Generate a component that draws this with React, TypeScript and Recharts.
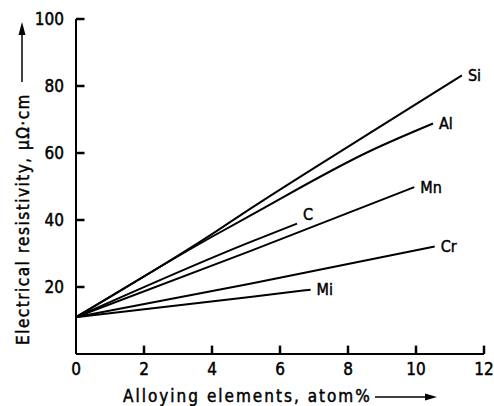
import { LineChart, Line, XAxis, YAxis, LabelList, ReferenceLine } from "recharts";

// resistivity vs. alloying content
const silicon = [[0, 11], [4, 35.8], [5.12, 43.3], [8.65, 66], [11.35, 83.2]];
const aluminium = [[0, 11], [4, 35], [5.12, 41.3], [8.65, 60.6], [10.5, 68.8]];
const carbon = [[0, 11], [5.12, 33.4], [6.5, 38.9]];
const manganese = [[0, 11], [5.12, 30.7], [9.95, 49.8]];
const chromium = [[0, 11], [5.12, 21], [10.55, 32.1]];
const nickel = [[0, 11], [5.12, 17], [6.9, 19.2]];

const seriesNames = ["Si", "Al", "C", "Mn", "Cr", "Mi"];
const seriesValues = [silicon, aluminium, carbon, manganese, chromium, nickel];

const xTicks = [0, 2, 4, 6, 8, 10, 12];
const yTicks = [20, 40, 60, 80, 100];

const FONT = "'DejaVu Sans Condensed', 'Liberation Sans Narrow', 'DejaVu Sans', sans-serif";
const INK = "#000";
const TXT = { fontFamily: FONT, fill: INK, stroke: INK, strokeWidth: 0.45 };

// inward tick length, in axis units (~8px)
const X_TICK_LEN = 2.5; // along y
const Y_TICK_LEN = 0.25; // along x

// label nudges (C sits above its line end)
const labelDy: Record<string, number> = { C: -9 };

const toPoints = (arr: number[][]) => arr.map(([x, y]) => ({ x, y }));

function XTick(props: any) {
  const { x, y, payload } = props;
  return (
    <text x={x} y={y} dy="0.71em" textAnchor="middle" fontSize={17} {...TXT}>
      {payload.value}
    </text>
  );
}

function YTick(props: any) {
  const { x, y, payload } = props;
  return (
    <text x={x} y={y} dy="0.36em" textAnchor="end" fontSize={17} {...TXT}>
      {payload.value}
    </text>
  );
}

function EndLabel(props: any) {
  const { x, y, index, name, count } = props;
  if (index !== count - 1) return null;
  return (
    <text x={x + 6} y={y + (labelDy[name] ?? 0)} dy="0.35em" fontSize={16} {...TXT}>
      {name}
    </text>
  );
}

export default function App() {
  return (
    <div style={{ position: "absolute", left: 0, top: 0, width: 494, height: 406, background: "#fff" }}>
      <LineChart width={494} height={406} margin={{ top: 19, right: 10, bottom: 0, left: 0 }}>
        <XAxis
          dataKey="x"
          type="number"
          domain={[0, 12]}
          ticks={xTicks}
          height={52}
          tickSize={0}
          tickMargin={9}
          axisLine={{ stroke: INK, strokeWidth: 2 }}
          tickLine={false}
          tick={<XTick />}
          allowDuplicatedCategory={false}
        />
        <YAxis
          type="number"
          domain={[0, 100]}
          ticks={yTicks}
          width={76}
          tickSize={0}
          tickMargin={12}
          axisLine={{ stroke: INK, strokeWidth: 2 }}
          tickLine={false}
          tick={<YTick />}
        />
        {xTicks
          .filter((t) => t > 0)
          .map((t) => (
            <ReferenceLine
              key={"xt" + t}
              segment={[{ x: t, y: 0 }, { x: t, y: X_TICK_LEN }]}
              stroke={INK}
              strokeWidth={2.5}
              ifOverflow="visible"
            />
          ))}
        {yTicks.map((t) => (
          <ReferenceLine
            key={"yt" + t}
            segment={[{ x: 0, y: t }, { x: Y_TICK_LEN, y: t }]}
            stroke={INK}
            strokeWidth={2.5}
            ifOverflow="visible"
          />
        ))}
        {seriesValues.map((vals, i) => {
          const pts = toPoints(vals);
          return (
            <Line
              key={seriesNames[i]}
              data={pts}
              dataKey="y"
              type="monotone"
              stroke={INK}
              strokeWidth={2}
              dot={false}
              isAnimationActive={false}
            >
              <LabelList
                dataKey="y"
                content={(p: any) => <EndLabel {...p} name={seriesNames[i]} count={pts.length} />}
              />
            </Line>
          );
        })}
      </LineChart>
      <svg width={494} height={406} style={{ position: "absolute", left: 0, top: 0, pointerEvents: "none" }}>
        <text x={123} y={402} fontSize={17} letterSpacing={2} {...TXT}>
          Alloying elements, atom%
        </text>
        <line x1={375} y1={397} x2={428} y2={397} stroke={INK} strokeWidth={1.5} />
        <polygon points="437,397 425,393.5 425,400.5" fill={INK} />
        <text transform="translate(29,219) rotate(-90)" textAnchor="middle" fontSize={17} letterSpacing={1.5} {...TXT}>
          Electrical resistivity, μΩ·cm
        </text>
        <line x1={22} y1={82} x2={22} y2={32} stroke={INK} strokeWidth={1.5} />
        <polygon points="22,22 18.5,35 25.5,35" fill={INK} />
      </svg>
    </div>
  );
}
